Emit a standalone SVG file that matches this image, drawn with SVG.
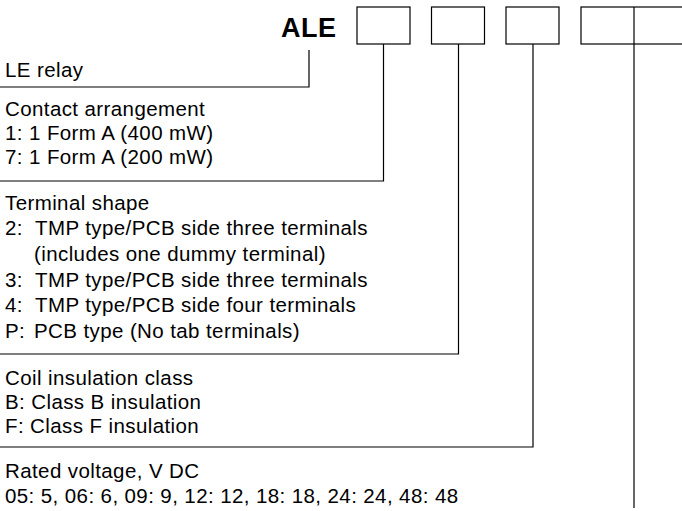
<svg xmlns="http://www.w3.org/2000/svg" width="682" height="511" viewBox="0 0 682 511">
<style>
text{font-family:"Liberation Sans",Arial,sans-serif;font-size:20.5px;fill:#000;letter-spacing:0.4px}
.title{font-weight:bold;font-size:27px;letter-spacing:0.5px}
.box{fill:none;stroke:#000;stroke-width:1.2}
.ln{fill:none;stroke:#000;stroke-width:1.2}
</style>
<rect width="682" height="511" fill="#fff"/>
<g id="code">
<text class="title" x="281" y="37">ALE</text>
<rect class="box" x="357" y="7" width="53" height="37"/>
<rect class="box" x="431.5" y="7" width="53" height="37"/>
<rect class="box" x="506" y="7" width="53" height="37"/>
<rect class="box" x="581" y="7" width="110" height="37"/>
</g>
<g id="connectors">
<polyline class="ln" points="309,50 309,87 0,87"/>
<polyline class="ln" points="383.5,44 383.5,181 0,181"/>
<polyline class="ln" points="458.5,44 458.5,354 0,354"/>
<polyline class="ln" points="533,44 533,447 0,447"/>
<line class="ln" x1="634" y1="7" x2="634" y2="508"/>
</g>
<g id="le-relay">
<text x="5" y="77">LE relay</text>
</g>
<g id="contact-arrangement">
<text x="5" y="116">Contact arrangement</text>
<text x="5" y="140">1: 1 Form A (400 mW)</text>
<text x="5" y="164">7: 1 Form A (200 mW)</text>
</g>
<g id="terminal-shape">
<text x="5" y="210">Terminal shape</text>
<text y="235"><tspan x="5">2:</tspan><tspan x="35">TMP type/PCB side three terminals</tspan></text>
<text x="34" y="261">(includes one dummy terminal)</text>
<text y="287"><tspan x="5">3:</tspan><tspan x="35">TMP type/PCB side three terminals</tspan></text>
<text y="312"><tspan x="5">4:</tspan><tspan x="35">TMP type/PCB side four terminals</tspan></text>
<text y="338"><tspan x="5">P:</tspan><tspan x="34">PCB type (No tab terminals)</tspan></text>
</g>
<g id="coil-insulation">
<text x="5" y="385">Coil insulation class</text>
<text x="5" y="409">B: Class B insulation</text>
<text x="5" y="433">F: Class F insulation</text>
</g>
<g id="rated-voltage">
<text x="5" y="478">Rated voltage, V DC</text>
<text x="5" y="503">05: 5, 06: 6, 09: 9, 12: 12, 18: 18, 24: 24, 48: 48</text>
</g>
</svg>
